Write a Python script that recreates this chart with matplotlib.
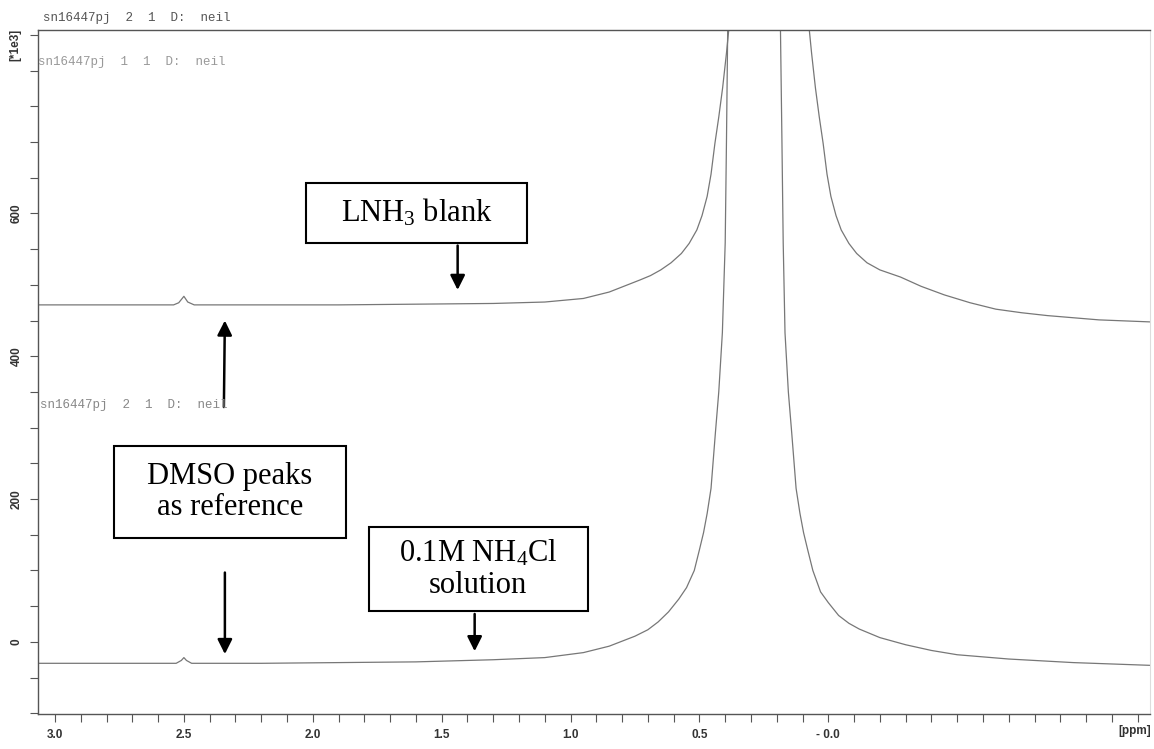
import matplotlib.pyplot as plt
from matplotlib.patches import Rectangle

# spectrum traces (ppm, intensity in 1e3)
upper_ppm = [3.07, 2.70, 2.54, 2.52, 2.50, 2.485, 2.46, 2.20, 1.90, 1.60, 1.30, 1.10, 0.95, 0.85,
             0.73, 0.69, 0.65, 0.61, 0.57, 0.54, 0.51, 0.49, 0.47, 0.455, 0.44, 0.425, 0.41,
             0.395, 0.38, 0.23, 0.08, 0.065, 0.05, 0.035, 0.02, 0.005, -0.01, -0.03, -0.05,
             -0.08, -0.11, -0.15, -0.20, -0.28, -0.36, -0.45, -0.55, -0.65, -0.75, -0.85,
             -1.05, -1.26]
upper_val = [472, 472, 472, 475, 484, 476, 472, 472, 472, 473, 474, 476, 481, 490,
             507, 513, 521, 531, 544, 558, 577, 597, 624, 655, 698, 735, 776,
             825, 880, 2500, 880, 825, 776, 735, 698, 655, 624, 597, 577,
             558, 544, 531, 521, 511, 498, 486, 475, 466, 461, 457,
             451, 448]

lower_ppm = [3.07, 2.70, 2.53, 2.51, 2.50, 2.49, 2.47, 2.20, 1.90, 1.60, 1.30, 1.10, 0.95, 0.85,
             0.75, 0.70, 0.66, 0.62, 0.58, 0.55, 0.52, 0.50, 0.484, 0.47, 0.455, 0.438, 0.425,
             0.411, 0.40, 0.395, 0.39, 0.29, 0.186, 0.18, 0.175, 0.168, 0.155, 0.142, 0.125,
             0.11, 0.096, 0.08, 0.06, 0.03, 0.0, -0.04, -0.08, -0.12, -0.20, -0.30, -0.40,
             -0.50, -0.70, -0.95, -1.26]
lower_val = [-30, -30, -30, -26, -22, -26, -30, -30, -29, -28, -25, -22, -15, -6,
             8, 17, 28, 42, 60, 76, 100, 129, 153, 180, 215, 293, 350,
             433, 559, 704, 868, 3000, 868, 704, 559, 433, 350, 293, 215,
             180, 153, 129, 100, 70, 55, 37, 26, 18, 6, -4, -12,
             -18, -24, -29, -33]

x_ticks = [3.0, 2.5, 2.0, 1.5, 1.0, 0.5, 0.0]
x_labels = ['3.0', '2.5', '2.0', '1.5', '1.0', '0.5', '- 0.0']
y_ticks = [0, 200, 400, 600]
y_labels = ['0', '200', '400', '600']

fig = plt.figure(figsize=(11.54, 7.49), dpi=100)
ax = fig.add_axes([38 / 1154, 1 - 714 / 749, 1112 / 1154, 684 / 749])

ax.plot(upper_ppm, upper_val, color='#777777', lw=0.9)
ax.plot(lower_ppm, lower_val, color='#777777', lw=0.9)

ax.set_xlim(3.066, -1.248)
ax.set_ylim(-101, 857)

ax.set_xticks(x_ticks)
ax.set_xticklabels(x_labels)
ax.set_xticks([v / 10 for v in range(-12, 31)], minor=True)
ax.set_yticks(y_ticks)
ax.set_yticklabels(y_labels, rotation=90, va='center')
ax.set_yticks(list(range(-100, 851, 50)), minor=True)

tick_font = dict(family='Liberation Sans', weight='bold', size=8.5)
for lab in ax.get_xticklabels() + ax.get_yticklabels():
    lab.set_fontproperties(tick_font)
    lab.set_color('#333333')
ax.tick_params(which='both', direction='out', length=6, width=0.8, colors='#555555',
               labelcolor='#333333', pad=5)

for side in ['left', 'top', 'bottom']:
    ax.spines[side].set_color('#555555')
    ax.spines[side].set_linewidth(1.0)
ax.spines['right'].set_color('#dddddd')

fig.text(1135 / 1154, 1 - 731 / 749, '[ppm]', ha='center', va='center',
         fontproperties=tick_font, color='#333333')
fig.text(15 / 1154, 1 - 45 / 749, '[*1e3]', ha='center', va='center', rotation=90,
         fontproperties=tick_font, color='#333333')

# bruker header texts
mono = dict(family='Liberation Mono', size=9)
fig.text(43 / 1154, 1 - 18 / 749, 'sn16447pj  2  1  D:  neil', va='center', color='#555555', **mono)
fig.text(38 / 1154, 1 - 62 / 749, 'sn16447pj  1  1  D:  neil', va='center', color='#999999', **mono)
fig.text(40 / 1154, 1 - 405 / 749, 'sn16447pj  2  1  D:  neil', va='center', color='#888888', **mono)

# annotation boxes
serif = dict(family='Liberation Serif', size=22)
boxes = [
    (1.167, 559, 0.86, 84, 1.597, 601, 'LNH$\\mathregular{_3}$ blank'),
    (1.872, 146, 0.899, 129, 2.322, 210, 'DMSO peaks\nas reference'),
    (0.934, 43, 0.849, 118, 1.359, 102, '0.1M NH$\\mathregular{_4}$Cl\nsolution'),
]
for x0, y0, w, h, tx, ty, txt in boxes:
    ax.add_patch(Rectangle((x0, y0), w, h, fill=False, edgecolor='black', lw=1.5, clip_on=False))
    ax.text(tx, ty, txt, ha='center', va='center', linespacing=1.1, **serif)

arrow = dict(arrowstyle='-|>', color='black', lw=1.8, mutation_scale=22)
ax.annotate('', xy=(1.438, 489), xytext=(1.438, 559), arrowprops=arrow)
ax.annotate('', xy=(2.341, 454), xytext=(2.345, 325), arrowprops=arrow)
ax.annotate('', xy=(2.341, -21), xytext=(2.341, 101), arrowprops=arrow)
ax.annotate('', xy=(1.372, -17), xytext=(1.372, 43), arrowprops=arrow)

plt.savefig('out.png', dpi=100)
